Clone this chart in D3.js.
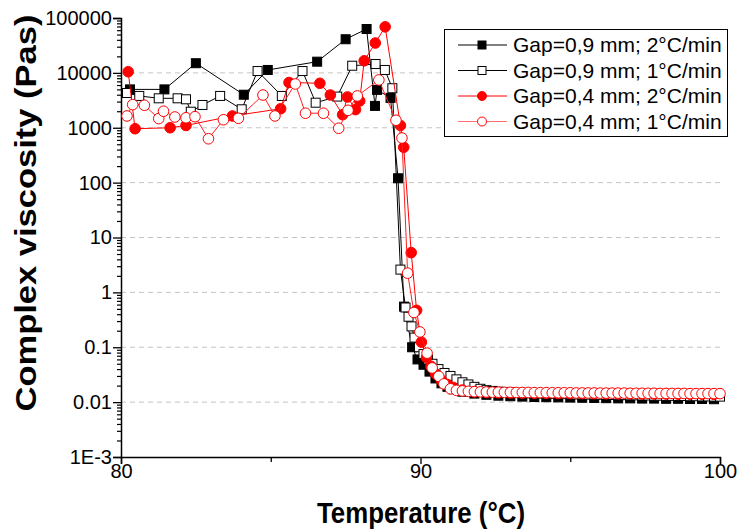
<!DOCTYPE html>
<html>
<head>
<meta charset="utf-8">
<script src="https://cdn.jsdelivr.net/npm/d3@7"></script>
<style>
  body { margin: 0; background: #fff; }
  svg { font-family: "Liberation Sans", Arial, sans-serif; }
</style>
</head>
<body>
<div id="vis-container"></div>
<script>
// Gap=0,9 mm; 2°C/min  (filled squares)
const aTemp = [80.3, 81.45, 82.5, 84.1, 84.9, 86.55, 87.5, 88.2, 88.48, 88.55, 89.0, 89.25, 89.45, 89.72, 89.9, 90.1,
  90.3, 90.5, 90.7, 90.9, 91.1, 91.4, 91.8, 92.2, 92.6, 93.0, 93.4, 93.8, 94.2, 94.6, 95.0, 95.4, 95.8, 96.2, 96.6,
  97.0, 97.4, 97.8, 98.2, 98.6, 99.0, 99.4, 99.8];
const aVisc = [5000, 5000, 15000, 4000, 11300, 16000, 41000, 63000, 2500, 4900, 3500, 120, 0.55, 0.1, 0.06, 0.048,
  0.036, 0.027, 0.022, 0.019, 0.0172, 0.0155, 0.0143, 0.0136, 0.0131, 0.0128, 0.0126, 0.0124, 0.0123, 0.0122, 0.0121, 0.012, 0.0119, 0.0118, 0.0117,
  0.0117, 0.0116, 0.0116, 0.0115, 0.0115, 0.0114, 0.0114, 0.0113];

// Gap=0,9 mm; 1°C/min  (open squares)
const bTemp = [80.2, 80.61, 81.26, 81.89, 82.17, 82.33, 82.72, 83.31, 84.03, 84.56, 85.37, 86.06, 86.5, 87.22, 87.72, 88.5, 88.81, 89.06,
  89.33, 89.5, 89.6, 89.7, 89.8, 89.95, 90.1, 90.25, 90.4, 90.6, 90.8, 91.0, 91.2, 91.4, 91.6, 91.8, 92.0, 92.2, 92.4, 92.6, 92.8,
  93.0, 93.2, 93.4, 93.6, 93.8, 94.0, 94.2, 94.4, 94.6, 94.8, 95.0, 95.2, 95.4, 95.6, 95.8, 96.0, 96.2, 96.4, 96.6, 96.8,
  97.0, 97.2, 97.4, 97.6, 97.8, 98.0, 98.2, 98.4, 98.6, 98.8, 99.0, 99.2, 99.4, 99.6, 99.8, 100.0];
const bVisc = [4300, 3800, 3440, 3440, 3300, 1960, 2600, 3800, 2170, 10800, 3800, 10800, 2860, 3700, 13500, 14500, 11300, 5250,
  2.6, 0.53, 0.36, 0.24, 0.15, 0.1, 0.075, 0.06, 0.05, 0.04, 0.034, 0.03, 0.026, 0.023, 0.021, 0.019, 0.0175, 0.0165, 0.016, 0.0155, 0.0152,
  0.015, 0.0148, 0.0146, 0.0145, 0.0144, 0.0143, 0.0142, 0.0141, 0.014, 0.014, 0.0139, 0.0138, 0.0138, 0.0137, 0.0137, 0.0136, 0.0135, 0.0135, 0.0134, 0.0134,
  0.0133, 0.0133, 0.0132, 0.0132, 0.0131, 0.0131, 0.013, 0.013, 0.0129, 0.0129, 0.0128, 0.0128, 0.0127, 0.0127, 0.0126, 0.0126];

// Gap=0,4 mm; 2°C/min  (filled circles)
const cTemp = [80.24, 80.47, 81.64, 82.17, 83.72, 85.33, 85.61, 86.64, 86.99, 87.4, 87.56, 87.83, 87.97, 88.12, 88.49, 88.82,
  89.33, 89.44, 89.69, 89.87, 90.03, 90.2, 90.35, 90.5, 90.7, 90.9, 91.1, 91.4, 91.8, 92.2, 92.6, 93.0, 93.4, 93.8, 94.2,
  94.6, 95.0, 95.4, 95.8, 96.2, 96.6, 97.0, 97.4, 97.8, 98.2, 98.6, 99.0, 99.4, 99.8];
const cVisc = [10500, 960, 1000, 1100, 1640, 2220, 6680, 6460, 3950, 1730, 3640, 2140, 3080, 16600, 35000, 69000,
  1100, 440, 5.3, 0.47, 0.124, 0.065, 0.045, 0.033, 0.025, 0.021, 0.0185, 0.0166, 0.0155, 0.015, 0.0148, 0.0147, 0.0146, 0.0145, 0.0145,
  0.0144, 0.0144, 0.0143, 0.0143, 0.0142, 0.0142, 0.0142, 0.0141, 0.0141, 0.0141, 0.014, 0.014, 0.014, 0.0139];

// Gap=0,4 mm; 1°C/min  (open circles)
const dTemp = [80.2, 80.39, 80.78, 81.26, 81.42, 81.8, 82.17, 82.47, 82.92, 83.42, 83.92, 84.74, 85.14, 85.82, 86.16, 86.76, 87.27, 87.58, 87.89, 88.61,
  89.18, 89.38, 89.57, 89.78, 89.98, 90.22, 90.39, 90.61, 90.78, 91.0, 91.2, 91.4, 91.6, 91.8, 92.0, 92.2, 92.4, 92.6, 92.8,
  93.0, 93.2, 93.4, 93.6, 93.8, 94.0, 94.2, 94.4, 94.6, 94.8, 95.0, 95.2, 95.4, 95.6, 95.8, 96.0, 96.2, 96.4, 96.6, 96.8,
  97.0, 97.2, 97.4, 97.6, 97.8, 98.0, 98.2, 98.4, 98.6, 98.8, 99.0, 99.2, 99.4, 99.6, 99.8, 100.0];
const dVisc = [1640, 2640, 2570, 1470, 2000, 1570, 1520, 1590, 630, 1400, 1490, 3950, 1640, 6280, 1840, 1840, 980, 2080, 3800, 7430,
  1370, 650, 2.24, 0.43, 0.19, 0.078, 0.042, 0.0295, 0.0215, 0.0175, 0.0164, 0.016, 0.0157, 0.0155, 0.0154, 0.0153, 0.0152, 0.0152, 0.0151,
  0.0151, 0.015, 0.015, 0.015, 0.0149, 0.0149, 0.0149, 0.0148, 0.0148, 0.0148, 0.0148, 0.0147, 0.0147, 0.0147, 0.0147, 0.0146, 0.0146, 0.0146, 0.0146, 0.0146,
  0.0145, 0.0145, 0.0145, 0.0145, 0.0145, 0.0144, 0.0144, 0.0144, 0.0144, 0.0144, 0.0143, 0.0143, 0.0143, 0.0143, 0.0143, 0.0143];

const seriesNames = ["Gap=0,9 mm; 2°C/min", "Gap=0,9 mm; 1°C/min", "Gap=0,4 mm; 2°C/min", "Gap=0,4 mm; 1°C/min"];
const majorTicks = [1e-3, 1e-2, 1e-1, 1, 10, 100, 1000, 10000, 100000];
const majorLabels = ["1E-3", "0.01", "0.1", "1", "10", "100", "1000", "10000", "100000"];
const gridTicks = [1e-2, 1e-1, 1, 10, 100, 1000, 10000];
const xMajor = [80, 90, 100];
const xMinor = [85, 95];

const width = 737, height = 531;
const margin = { top: 18, right: 17, bottom: 74, left: 121 };

const svg = d3.select("#vis-container")
  .append("svg")
  .attr("width", width)
  .attr("height", height);

const x = d3.scaleLinear().domain([80, 100]).range([margin.left, width - margin.right]);
const y = d3.scaleLog().domain([1e-3, 1e5]).range([height - margin.bottom, margin.top]);

// minor log ticks
let minorTicks = [];
for (let e = -3; e < 5; e++) {
  for (let k = 2; k <= 9; k++) minorTicks.push(k * Math.pow(10, e));
}

// grid
svg.append("g")
  .selectAll("line")
  .data(gridTicks)
  .join("line")
  .attr("x1", margin.left)
  .attr("x2", width - margin.right)
  .attr("y1", d => y(d))
  .attr("y2", d => y(d))
  .attr("stroke", "#c4c4c4")
  .attr("stroke-width", 1)
  .attr("stroke-dasharray", "5,4");

// y axis
const yAxis = svg.append("g")
  .attr("transform", `translate(${margin.left},0)`)
  .call(d3.axisLeft(y).tickValues(majorTicks).tickSize(8).tickFormat((d, i) => majorLabels[i]));
yAxis.select(".domain").attr("stroke-width", 1.5);
yAxis.selectAll(".tick line").attr("stroke-width", 1.3);
yAxis.selectAll("text").attr("font-size", "20px").attr("fill", "#000").attr("x", -9)
  .attr("font-family", "Liberation Sans, Arial, sans-serif");

svg.append("g")
  .attr("transform", `translate(${margin.left},0)`)
  .call(d3.axisLeft(y).tickValues(minorTicks).tickSize(4).tickFormat(""))
  .call(g => g.select(".domain").remove())
  .selectAll(".tick line").attr("stroke-width", 1.2);

// x axis
const xAxis = svg.append("g")
  .attr("transform", `translate(0,${height - margin.bottom})`)
  .call(d3.axisBottom(x).tickValues(xMajor).tickSize(7).tickFormat(d3.format("d")));
xAxis.select(".domain").attr("stroke-width", 1.5);
xAxis.selectAll(".tick line").attr("stroke-width", 1.3);
xAxis.selectAll("text").attr("font-size", "20px").attr("fill", "#000").attr("y", 7)
  .attr("font-family", "Liberation Sans, Arial, sans-serif");

svg.append("g")
  .attr("transform", `translate(0,${height - margin.bottom})`)
  .call(d3.axisBottom(x).tickValues(xMinor).tickSize(5).tickFormat(""))
  .call(g => g.select(".domain").remove())
  .selectAll(".tick line").attr("stroke-width", 1.3);

// axis titles
svg.append("text")
  .attr("x", 421)
  .attr("y", 523)
  .attr("text-anchor", "middle")
  .attr("font-size", "29px")
  .attr("font-weight", "bold")
  .attr("textLength", 208)
  .attr("lengthAdjust", "spacingAndGlyphs")
  .text("Temperature (°C)");

svg.append("text")
  .attr("transform", "translate(36,213) rotate(-90)")
  .attr("text-anchor", "middle")
  .attr("font-size", "29px")
  .attr("font-weight", "bold")
  .attr("textLength", 397)
  .attr("lengthAdjust", "spacingAndGlyphs")
  .text("Complex viscosity (Pas)");

// series
const series = [
  { t: aTemp, v: aVisc, line: "#000", shape: "square", fill: "#000", stroke: "#000" },
  { t: bTemp, v: bVisc, line: "#000", shape: "square", fill: "#fff", stroke: "#000" },
  { t: cTemp, v: cVisc, line: "#ff0000", shape: "circle", fill: "#ff0000", stroke: "#ff0000" },
  { t: dTemp, v: dVisc, line: "#ff2020", shape: "circle", fill: "#fff", stroke: "#ff0000" }
];

const lineGen = d3.line().x(d => x(d[0])).y(d => y(d[1]));

series.forEach(s => {
  const pts = s.t.map((t, i) => [t, s.v[i]]);
  const g = svg.append("g");
  g.append("path")
    .datum(pts)
    .attr("d", lineGen)
    .attr("fill", "none")
    .attr("stroke", s.line)
    .attr("stroke-width", 1);
  if (s.shape === "square") {
    g.selectAll("rect")
      .data(pts)
      .join("rect")
      .attr("x", d => x(d[0]) - 4.5)
      .attr("y", d => y(d[1]) - 4.5)
      .attr("width", 9)
      .attr("height", 9)
      .attr("fill", s.fill)
      .attr("stroke", s.stroke)
      .attr("stroke-width", 1);
  } else {
    g.selectAll("circle")
      .data(pts)
      .join("circle")
      .attr("cx", d => x(d[0]))
      .attr("cy", d => y(d[1]))
      .attr("r", 5.3)
      .attr("fill", s.fill)
      .attr("stroke", s.stroke)
      .attr("stroke-width", 1);
  }
});

// legend
const legend = svg.append("g");
legend.append("rect")
  .attr("x", 444.5)
  .attr("y", 29.5)
  .attr("width", 283)
  .attr("height", 107)
  .attr("fill", "#fff")
  .attr("stroke", "#000")
  .attr("stroke-width", 1);

const legendLines = ["#000", "#000", "#ff0000", "#ff7070"];
const rowY = [45, 70.5, 96, 121.5];
seriesNames.forEach((name, i) => {
  const s = series[i];
  legend.append("line")
    .attr("x1", 458).attr("x2", 507)
    .attr("y1", rowY[i]).attr("y2", rowY[i])
    .attr("stroke", legendLines[i])
    .attr("stroke-width", 1);
  if (s.shape === "square") {
    legend.append("rect")
      .attr("x", 478).attr("y", rowY[i] - 4)
      .attr("width", 8).attr("height", 8)
      .attr("fill", s.fill).attr("stroke", s.stroke);
  } else {
    legend.append("circle")
      .attr("cx", 482).attr("cy", rowY[i])
      .attr("r", 4.5)
      .attr("fill", s.fill).attr("stroke", s.stroke);
  }
  legend.append("text")
    .attr("x", 513)
    .attr("y", rowY[i])
    .attr("dy", "0.35em")
    .attr("font-size", "21px")
    .text(name);
});
</script>
</body>
</html>
